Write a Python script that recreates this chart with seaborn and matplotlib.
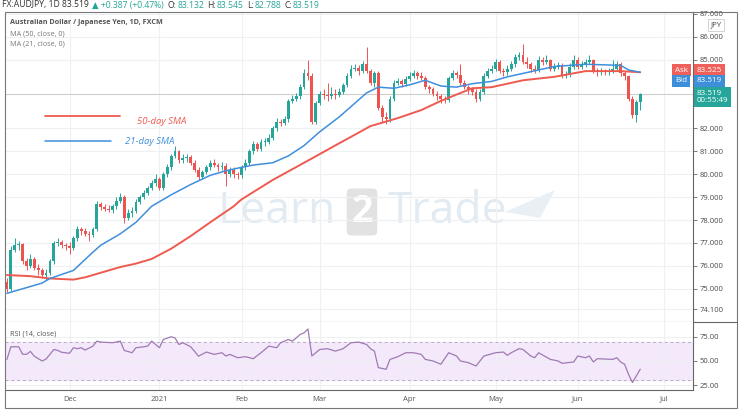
import numpy as np
import pandas as pd
import matplotlib
matplotlib.use("Agg")
import matplotlib.pyplot as plt
from matplotlib.lines import Line2D
from matplotlib.patches import Rectangle, Polygon
import seaborn as sns

# ---------- data (AUD/JPY daily, FXCM) ----------
first_open = 75.3
closes = [75.0, 76.7, 76.9, 76.95, 76.2, 76.0, 76.3, 75.9, 75.8, 75.6,
          75.7, 76.2, 77.0, 77.05, 76.9, 76.85, 76.8, 77.2, 77.6, 77.5,
          77.4, 77.35, 77.6, 78.7, 78.55, 78.5, 78.45, 78.6, 78.85, 79.0,
          78.1, 78.3, 78.4, 78.8, 79.0, 79.2, 79.4, 79.6, 79.8, 79.4,
          80.0, 80.3, 80.8, 81.0, 80.6, 80.7, 80.75, 80.5, 80.2, 79.9,
          80.1, 80.3, 80.5, 80.4, 80.3, 80.35, 80.0, 80.2, 80.0, 79.95,
          80.3, 80.5, 81.0, 81.3, 81.1, 81.4, 81.4, 81.6, 82.0, 82.3,
          82.25, 82.4, 83.2, 83.3, 83.4, 83.8, 84.4, 84.3, 82.3, 83.1,
          83.5, 83.45, 83.4, 83.5, 83.45, 83.6, 83.9, 84.3, 84.6, 84.65,
          84.5, 84.8, 84.5, 84.0, 84.4, 82.9, 82.5, 82.4, 83.3, 84.0,
          84.05, 83.95, 84.15, 84.3, 84.4, 84.3, 84.2, 83.8, 83.7, 83.5,
          83.4, 83.3, 83.25, 84.2, 84.4, 84.35, 84.0, 83.8, 83.7, 83.6,
          83.3, 83.6, 84.3, 84.5, 84.6, 84.9, 84.5, 84.45, 84.6, 84.8,
          85.1, 85.2, 84.9, 84.8, 84.6, 84.55, 85.0, 84.9, 85.0, 84.6,
          84.7, 84.75, 84.3, 84.35, 84.7, 85.0, 84.7, 84.8, 84.9, 85.0,
          84.5, 84.45, 84.5, 84.45, 84.5, 84.6, 84.8, 84.4, 84.3, 83.3,
          82.6, 83.132, 83.519]
highs = [75.45, 76.85, 77.2, 77.1, 77.0, 76.35, 76.5, 76.4, 76.1, 75.9,
         75.85, 76.3, 77.1, 77.2, 77.15, 77.0, 77.05, 77.3, 77.75, 77.7,
         77.65, 77.5, 77.7, 78.85, 78.8, 78.7, 78.65, 78.7, 79.0, 79.2,
         79.1, 78.5, 78.55, 78.9, 79.1, 79.3, 79.5, 79.75, 80.0, 79.9,
         80.1, 80.45, 80.9, 81.25, 81.05, 80.9, 80.9, 80.85, 80.6, 80.3,
         80.2, 80.4, 80.6, 80.65, 80.5, 80.55, 80.5, 80.3, 80.3, 80.1,
         80.4, 80.65, 81.1, 81.45, 81.4, 81.55, 81.6, 81.75, 82.1, 82.45,
         82.4, 82.55, 83.3, 83.45, 83.55, 83.95, 84.6, 85.0, 84.4, 83.2,
         83.65, 83.7, 84.0, 83.8, 83.7, 83.75, 84.0, 84.4, 84.75, 84.8,
         84.75, 84.95, 85.55, 84.6, 84.5, 84.5, 83.0, 82.7, 83.4, 84.1,
         84.2, 84.15, 84.3, 84.45, 84.55, 84.5, 84.45, 84.3, 83.9, 83.8,
         83.65, 83.5, 83.4, 84.3, 84.55, 84.5, 84.8, 84.1, 83.9, 83.8,
         83.7, 83.7, 84.4, 84.65, 84.75, 85.05, 85.0, 84.65, 84.75, 84.95,
         85.25, 85.35, 85.7, 85.1, 84.9, 84.75, 85.15, 85.1, 85.2, 85.05,
         84.85, 84.9, 84.85, 84.5, 84.85, 85.2, 85.1, 84.95, 85.05, 85.2,
         85.05, 84.65, 84.65, 84.6, 84.65, 85.0, 84.95, 84.9, 84.5, 84.35,
         83.4, 83.25, 83.545]
lows = [74.85, 74.9, 76.6, 76.7, 76.1, 75.8, 75.9, 75.8, 75.6, 75.45,
        75.4, 75.6, 76.1, 76.85, 76.8, 76.7, 76.5, 76.7, 77.1, 77.35,
        77.3, 77.1, 77.25, 77.5, 78.45, 78.4, 78.35, 78.3, 78.5, 78.75,
        77.85, 78.0, 78.15, 78.3, 78.7, 78.9, 79.1, 79.3, 79.5, 79.3,
        79.3, 79.9, 80.2, 80.7, 80.5, 80.5, 80.55, 80.4, 80.1, 79.75,
        79.8, 80.0, 80.2, 80.3, 80.15, 80.2, 79.5, 79.9, 79.85, 79.8,
        79.85, 80.2, 80.4, 80.9, 81.0, 81.0, 81.25, 81.3, 81.5, 81.9,
        82.1, 82.15, 82.3, 83.1, 83.2, 83.3, 83.7, 84.1, 82.2, 82.2,
        83.0, 83.3, 83.2, 83.3, 83.3, 83.35, 83.5, 83.8, 84.2, 84.5,
        84.35, 84.4, 84.4, 83.9, 83.8, 82.8, 82.3, 82.2, 82.3, 83.2,
        83.9, 83.8, 83.85, 84.05, 84.2, 84.15, 84.1, 83.7, 83.55, 83.4,
        83.25, 83.1, 83.1, 83.15, 84.1, 84.2, 83.9, 83.7, 83.5, 83.45,
        83.15, 83.2, 83.5, 84.2, 84.4, 84.5, 84.4, 84.3, 84.35, 84.5,
        84.7, 85.0, 84.8, 84.65, 84.45, 84.4, 84.45, 84.75, 84.8, 84.5,
        84.5, 84.6, 84.2, 84.2, 84.25, 84.6, 84.6, 84.6, 84.7, 84.8,
        84.4, 84.3, 84.35, 84.35, 84.35, 84.4, 84.5, 84.3, 84.1, 83.2,
        82.45, 82.3, 82.788]

# moving averages (bar number, value)
sma21_bar = [0, 9, 11, 17, 22, 24, 29, 33, 37, 42, 47, 52, 56, 60, 63, 68, 72, 76, 80, 85,
             89, 92, 95, 99, 103, 107, 111, 115, 119, 124, 128, 132, 140, 148, 157, 159, 162]
sma21_val = [74.8, 75.25, 75.45, 75.8, 76.6, 76.9, 77.4, 77.9, 78.6, 79.1, 79.55, 79.95, 80.15,
             80.3, 80.4, 80.5, 80.8, 81.25, 81.85, 82.5, 83.1, 83.55, 83.8, 83.75, 83.9, 84.1,
             83.85, 83.8, 83.95, 84.05, 84.25, 84.4, 84.7, 84.8, 84.75, 84.55, 84.45]
sma50_bar = [0, 6, 11, 17, 20, 24, 29, 33, 37, 42, 47, 52, 58, 60, 68, 76, 85, 93, 100, 106,
             111, 119, 124, 132, 140, 148, 157, 162]
sma50_val = [75.6, 75.55, 75.45, 75.4, 75.5, 75.7, 75.95, 76.1, 76.3, 76.75, 77.3, 77.9, 78.6,
             78.9, 79.75, 80.5, 81.35, 82.1, 82.45, 82.8, 83.2, 83.75, 83.8, 84.1, 84.25, 84.5,
             84.5, 84.45]

# RSI (14, close)
rsi_bar = [0, 1, 3, 4, 5, 6, 7, 9, 10, 12, 13, 14, 15, 16, 17, 18, 19, 20, 22, 23,
           24, 27, 29, 30, 32, 33, 35, 36, 37, 39, 40, 42, 43, 44, 45, 47, 48, 49, 51, 53,
           55, 56, 57, 59, 61, 63, 65, 67, 69, 70, 72, 73, 74, 75, 76, 77, 78, 80, 82, 84,
           86, 88, 90, 92, 93, 94, 95, 97, 98, 100, 102, 104, 106, 107, 109, 111, 113, 115, 116, 118,
           120, 122, 125, 127, 128, 129, 131, 132, 134, 135, 136, 139, 141, 142, 145, 146, 148, 149, 150, 151,
           155, 156, 157, 158, 159, 160, 162]
rsi_val = [51.7, 64.8, 64.8, 57, 57, 60, 55, 50, 52, 62, 61, 59, 58.6, 58, 63.8, 62.8, 63.8, 61.4, 65.5, 70.7,
           69.7, 69, 70.7, 61, 58.6, 63.8, 64.8, 65.5, 70.7, 63.8, 72.4, 75.2, 74, 67.2, 69, 64.8, 60, 55, 59.3, 56.9,
           58.6, 55.2, 56.9, 53.4, 54.5, 52.4, 58.6, 65.5, 63.8, 69, 72.4, 70.7, 74, 77.6, 79.3, 83.4, 55.2, 62, 62.8, 60.3,
           62.8, 69, 69.7, 67.2, 62.8, 60.3, 43.1, 41.4, 51.7, 54.5, 58.6, 58.6, 56.9, 51.7, 50, 46.6, 58.6, 55.2, 50, 48.3,
           44.8, 55.2, 58.6, 59.3, 55.9, 58.6, 62.8, 62, 55.2, 53.4, 58.6, 51.7, 50, 47.6, 49, 55.2, 53.4, 55.2, 49, 52.4,
           51.7, 53.4, 49, 46.6, 36.2, 27.6, 41.4]

price_ticks = [74.1, 75, 76, 77, 78, 79, 80, 81, 82, 85, 86, 87]
rsi_ticks = [25, 50, 75]
month_starts = ["2020-12-01", "2021-01-01", "2021-02-01", "2021-03-01",
                "2021-04-01", "2021-05-01", "2021-06-01", "2021-07-01"]
month_labels = ["Dec", "2021", "Feb", "Mar", "Apr", "May", "Jun", "Jul"]

GREEN = "#26a69a"
RED = "#ef5350"

# build tables
n = len(closes)
dates = pd.bdate_range("2020-11-09", periods=n + 25)
df = pd.DataFrame({"bar": np.arange(n), "date": dates[:n],
                   "open": [first_open] + closes[:-1],
                   "high": highs, "low": lows, "close": closes})
month_pos = [int(dates.searchsorted(pd.Timestamp(m))) for m in month_starts]
sma21 = pd.DataFrame({"bar": sma21_bar, "value": sma21_val})
sma50 = pd.DataFrame({"bar": sma50_bar, "value": sma50_val})
rsi = pd.DataFrame({"bar": rsi_bar, "value": rsi_val})

sns.set_style("white")
plt.rcParams["font.family"] = ["Open Sans", "DejaVu Sans"]

W, H = 740, 416
fig = plt.figure(figsize=(W / 100, H / 100), dpi=100)


def rect(x0, y0, x1, y1):
    return [x0 / W, 1 - y1 / H, (x1 - x0) / W, (y1 - y0) / H]


def px(x, y):
    return x / W, 1 - y / H


ax = fig.add_axes(rect(5, 12, 693, 322))
ax2 = fig.add_axes(rect(5, 322, 693, 390))

for a in (ax, ax2):
    a.set_xlim(-0.5, 175.5)
    a.set_xticks(month_pos)
    a.grid(True, color="#eef1f4", lw=0.8)
    a.set_axisbelow(True)
    a.yaxis.tick_right()
    for s in ("left", "top"):
        a.spines[s].set_visible(False)
    for s in ("right", "bottom"):
        a.spines[s].set_color("#666666")
        a.spines[s].set_linewidth(0.8)
    a.tick_params(axis="y", length=3, width=0.6, color="#666666",
                  labelsize=5.5, labelcolor="#4a4a4a", pad=2)
ax.tick_params(axis="x", length=0, labelbottom=False)
ax2.tick_params(axis="x", length=0, labelsize=5.5, labelcolor="#555555", pad=4)

# candles
up = df[df["close"] >= df["open"]]
dn = df[df["close"] < df["open"]]
for part, col in ((up, GREEN), (dn, RED)):
    ax.vlines(part["bar"], part["low"], part["high"], color=col, lw=0.7, zorder=2)
    body_lo = part[["open", "close"]].min(axis=1)
    body_h = (part["close"] - part["open"]).abs().clip(lower=0.05)
    ax.bar(part["bar"], body_h, bottom=body_lo, width=0.74, color=col, lw=0, zorder=3)

sns.lineplot(data=sma50, x="bar", y="value", ax=ax, color="#ee5a4f", lw=1.4, zorder=4)
sns.lineplot(data=sma21, x="bar", y="value", ax=ax, color="#3f8fdc", lw=1.1, zorder=4)
ax.axhline(closes[-1], color="#cfcfcf", lw=0.8, zorder=1)

ax.set_ylim(73.55, 87.08)
ax.set_yticks(price_ticks)
ax.set_yticklabels([f"{v:.3f}" for v in price_ticks])
ax.set_xlabel("")
ax.set_ylabel("")

# RSI panel
ax2.axhspan(30, 70, color="#f4e8fb", zorder=0)
for lvl in (70, 30):
    ax2.axhline(lvl, color="#b8acbf", lw=0.7, ls=(0, (3, 3)), zorder=1)
sns.lineplot(data=rsi, x="bar", y="value", ax=ax2, color="#a07ab3", lw=0.9, zorder=3)
ax2.set_ylim(19.8, 90.6)
ax2.set_yticks(rsi_ticks)
ax2.set_yticklabels([f"{v:.2f}" for v in rsi_ticks])
ax2.set_xticklabels(month_labels)
ax2.set_xlabel("")
ax2.set_ylabel("")
ax2.text(*px(10, 334), "RSI (14, close)", transform=fig.transFigure,
         fontsize=5.2, color="#555555", va="center")

# watermark
wm = "#e3ebf2"
ax.text(*px(336, 212), "Learn", transform=fig.transFigure, ha="right", va="center",
        fontsize=32, color=wm, zorder=0)
ax.text(*px(362, 212), "2", transform=fig.transFigure, ha="center", va="center",
        fontsize=27, color="white", weight="bold", zorder=0,
        bbox=dict(boxstyle="round,pad=0.12", fc="#e2e2e2", ec="none"))
ax.text(*px(388, 212), "Trade", transform=fig.transFigure, ha="left", va="center",
        fontsize=32, color=wm, zorder=0)
ax.add_patch(Polygon([px(505, 212), px(555, 190), px(540, 218)], closed=True,
                     transform=fig.transFigure, fc="#e8f0f6", ec="none", zorder=0))

# header line, pieces chained left to right
renderer = fig.canvas.get_renderer()
header = [("FX:AUDJPY, 1D 83.519", "#333333", 3), ("\u25b2 +0.387 (+0.47%)", GREEN, 4),
          ("O:", "#333333", 1), ("83.132", GREEN, 3), ("H:", "#333333", 1),
          ("83.545", GREEN, 3), ("L:", "#333333", 1), ("82.788", GREEN, 3),
          ("C:", "#333333", 1), ("83.519", GREEN, 3)]
hx = 2
for s, c, gap in header:
    t = fig.text(*px(hx, 5), s, fontsize=6.2, color=c, va="center", ha="left")
    hx = t.get_window_extent(renderer).x1 + gap

fig.text(*px(10, 23), "Australian Dollar / Japanese Yen, 1D, FXCM", fontsize=5.2,
         weight="bold", color="#555555", va="center")
fig.text(*px(10, 34), "MA (50, close, 0)", fontsize=5.2, color="#777777", va="center")
fig.text(*px(10, 44), "MA (21, close, 0)", fontsize=5.2, color="#777777", va="center")

fig.add_artist(Line2D([45 / W, 120 / W], [1 - 116 / H] * 2, color="#ee5a4f", lw=1.3))
fig.text(*px(137, 121), "50-day SMA", fontsize=6.8, style="italic", color="#ee5a4f", va="center")
fig.add_artist(Line2D([45 / W, 111 / W], [1 - 141 / H] * 2, color="#3f8fdc", lw=1.1))
fig.text(*px(125, 142), "21-day SMA", fontsize=6.8, style="italic", color="#3f8fdc", va="center")

# price tags on the right scale
tag = dict(fontsize=5.8, color="white", va="center", ha="left")
fig.text(*px(675, 70), "Ask", **tag, bbox=dict(boxstyle="square,pad=0.35", fc="#f0605a", ec="none"))
fig.text(*px(697, 70), "83.525", **tag, bbox=dict(boxstyle="square,pad=0.35", fc="#f0605a", ec="none"))
fig.text(*px(675, 81), "Bid", **tag, bbox=dict(boxstyle="square,pad=0.35", fc="#3d8fd9", ec="none"))
fig.text(*px(697, 81), "83.519", **tag, bbox=dict(boxstyle="square,pad=0.35", fc="#3d8fd9", ec="none"))
fig.text(*px(697, 97), "83.519\n00:55:49", fontsize=5.8, color="white", va="center", ha="left",
         linespacing=1.1, bbox=dict(boxstyle="square,pad=0.35", fc=GREEN, ec="none"))
fig.text(*px(716, 25), "JPY", fontsize=5.6, color="#444444", va="center", ha="center",
         bbox=dict(boxstyle="square,pad=0.3", fc="white", ec="#cccccc", lw=0.6))

# frame
fig.add_artist(Rectangle(px(5, 408), 732 / W, 396 / H, transform=fig.transFigure,
                         fill=False, ec="#777777", lw=0.8))
fig.add_artist(Line2D([693 / W, 737 / W], [1 - 322 / H] * 2, color="#666666", lw=0.8))

fig.savefig("out.png", dpi=100)
